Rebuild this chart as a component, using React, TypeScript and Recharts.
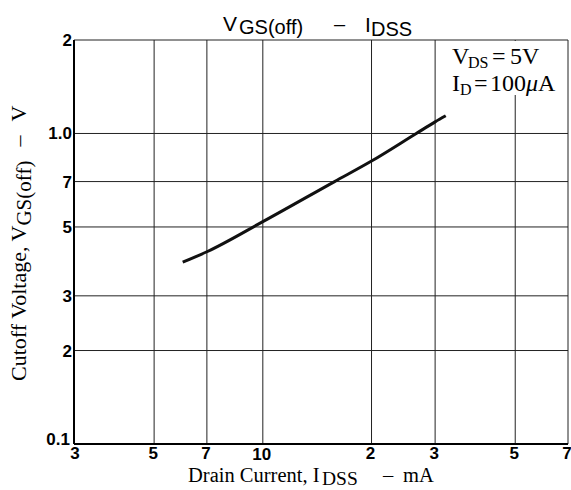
import React from 'react';
import { LineChart, Line, XAxis, YAxis, CartesianGrid } from 'recharts';

const drainCurrentMA = [6, 7, 10, 15.8, 20, 26.6, 30, 32.1];
const cutoffVoltageV = [0.385, 0.416, 0.52, 0.7, 0.815, 1.0, 1.09, 1.14];
const xTicks = [3, 5, 7, 10, 20, 30, 50, 70];
const xTickLabels = ['3', '5', '7', '10', '2', '3', '5', '7'];
const yTicks = [0.1, 0.2, 0.3, 0.5, 0.7, 1, 2];
const yTickLabels = ['0.1', '2', '3', '5', '7', '1.0', '2'];

const data = drainCurrentMA.map((i, k) => ({ i, v: cutoffVoltageV[k] }));

const SANS = '"Liberation Sans", Arial, Helvetica, sans-serif';
const SERIF = '"Liberation Serif", "Times New Roman", serif';

const XTick = (props: any) => {
  const { x, y, payload } = props;
  const idx = xTicks.indexOf(payload.value);
  const label = idx >= 0 ? xTickLabels[idx] : '';
  const low = label === '10';
  const dx = idx === 0 ? 1 : -1;
  return (
    <text x={x + dx} y={y + (low ? 16 : 15)} textAnchor="middle" fontFamily={SANS} fontWeight="bold" fontSize={17} fill="#000">
      {label}
    </text>
  );
};

const YTick = (props: any) => {
  const { x, y, payload } = props;
  const idx = yTicks.indexOf(payload.value);
  const label = idx >= 0 ? yTickLabels[idx] : '';
  const first = label === '0.1';
  return (
    <text x={x - (first ? 2 : 0)} y={y + (first ? 1 : 6)} textAnchor="end" fontFamily={SANS} fontWeight="bold" fontSize={17} fill="#000">
      {label}
    </text>
  );
};

export default function App() {
  return (
    <div style={{ position: 'absolute', left: 0, top: 0, width: 571, height: 490, background: '#fff' }}>
      <LineChart width={571} height={490} data={data} margin={{ top: 40, right: 3, bottom: 16, left: 0 }}>
        <CartesianGrid stroke="#222" strokeWidth={1} />
        <XAxis
          dataKey="i"
          type="number"
          scale="log"
          domain={[3, 70]}
          ticks={xTicks}
          allowDataOverflow
          height={30}
          tickSize={0}
          tickMargin={0}
          tickLine={false}
          axisLine={{ stroke: '#000', strokeWidth: 2 }}
          tick={<XTick />}
          interval={0}
        />
        <YAxis
          dataKey="v"
          type="number"
          scale="log"
          domain={[0.1, 2]}
          ticks={yTicks}
          allowDataOverflow
          width={74}
          tickSize={0}
          tickMargin={2}
          tickLine={false}
          axisLine={{ stroke: '#000', strokeWidth: 2 }}
          tick={<YTick />}
          interval={0}
        />
        <Line
          dataKey="v"
          type="monotone"
          stroke="#111"
          strokeWidth={3}
          dot={false}
          isAnimationActive={false}
        />
      </LineChart>
      <svg width={571} height={490} style={{ position: 'absolute', left: 0, top: 0, pointerEvents: 'none' }}>
        <rect x={436} y={41} width={130} height={54} fill="#fff" />
        <g fontFamily={SANS} fill="#000">
          <text x={223} y={31} fontSize={21}>V</text>
          <text x={239} y={34} fontSize={20}>GS(off)</text>
          <text x={339.5} y={31} fontSize={20} textAnchor="middle">–</text>
          <text x={365} y={32} fontSize={21}>I</text>
          <text x={371} y={36} fontSize={20}>DSS</text>
        </g>
        <g fontFamily={SERIF} fill="#000">
          <text x={452} y={64} fontSize={24}>V</text>
          <text x={468} y={68} fontSize={16}>DS</text>
          <text x={492} y={64} fontSize={24}>=</text>
          <text x={510} y={64} fontSize={24}>5V</text>
          <text x={452} y={91} fontSize={24}>I</text>
          <text x={460} y={95} fontSize={16}>D</text>
          <text x={474} y={91} fontSize={24}>=</text>
          <text x={490} y={91} fontSize={24}>100</text>
          <text x={526} y={91} fontSize={24} fontStyle="italic">μ</text>
          <text x={538} y={91} fontSize={24}>A</text>
        </g>
        <g fontFamily={SERIF} fill="#000">
          <text x={188} y={482} fontSize={20.5}>Drain Current, I</text>
          <text x={322} y={485} fontSize={19.5}>DSS</text>
          <text x={383} y={482} fontSize={20.5}>–</text>
          <text x={403} y={482} fontSize={20.5}>mA</text>
        </g>
        <g fontFamily={SERIF} fill="#000" transform="rotate(-90 26 381)">
          <text x={26} y={381} fontSize={22}>
            <tspan>Cutoff Voltage, V</tspan>
            <tspan fontSize={21} dy={5}>GS(off)</tspan>
            <tspan dy={-5} dx={14}>–</tspan>
            <tspan dx={14}>V</tspan>
          </text>
        </g>
      </svg>
    </div>
  );
}
